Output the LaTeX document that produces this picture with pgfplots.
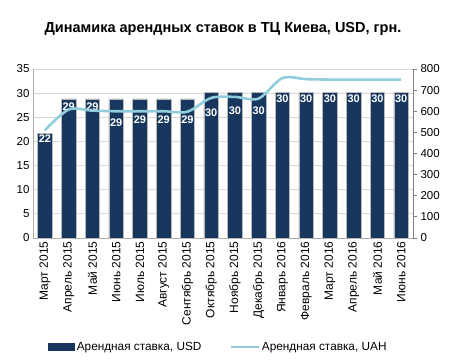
\documentclass[border=0pt]{standalone}
\usepackage{pgfplots}
\pgfplotsset{compat=1.18}
\usepackage{fontspec}
\setmainfont{Liberation Sans}
\definecolor{navy}{RGB}{23,55,94}
\definecolor{lblue}{RGB}{146,205,221}
\definecolor{gridc}{RGB}{217,217,217}
\definecolor{axc}{RGB}{170,170,170}
\definecolor{axr}{RGB}{130,130,130}
\begin{document}
\begin{tikzpicture}
\useasboundingbox (-33pt,-121pt) rectangle (417pt,238pt);
\begin{axis}[
  at={(0pt,0pt)}, anchor=south west,
  scale only axis, width=380pt, height=169pt,
  xmin=-0.5, xmax=15.5, ymin=0, ymax=35,
  ytick={0,5,...,35},
  xtick={0,...,15},
  xticklabels={Март 2015,Апрель 2015,Май 2015,Июнь 2015,Июль 2015,Август 2015,Сентябрь 2015,Октябрь 2015,Ноябрь 2015,Декабрь 2015,Январь 2016,Февраль 2016,Март 2016,Апрель 2016,Май 2016,Июнь 2016},
  xticklabel style={rotate=90, anchor=east, font=\fontsize{12}{14}\selectfont},
  yticklabel style={font=\fontsize{11.5}{13}\selectfont},
  /pgf/number format/assume math mode=true,
  major tick length=0pt,
  ymajorgrids, grid style={gridc, line width=0.8pt},
  axis y line*=left, axis x line*=bottom,
  axis line style={axc, line width=0.8pt, -},
  title={\bfseries Динамика арендных ставок в ТЦ Киева, USD, грн.},
  title style={at={(0.5,1)}, anchor=center, yshift=34pt, font=\fontsize{14.5}{17}\selectfont},
  legend columns=2,
  legend style={draw=none, at={(0.488,-0.645)}, anchor=center, font=\fontsize{11.8}{13}\selectfont,
    /tikz/every even column/.append style={column sep=26pt}},
  legend cell align=left,
]
\addplot[ybar, bar width=14.5pt, fill=navy, draw=gray!55, line width=0.5pt,
  legend image code/.code={\fill[navy] (0pt,-3.5pt) rectangle (26pt,3.5pt);}]
  coordinates {(0,21.7) (1,28.8) (2,28.8) (3,28.8) (4,28.8) (5,28.8) (6,28.8) (7,30.1) (8,30.1) (9,30.1) (10,30.1) (11,30.1) (12,30.1) (13,30.1) (14,30.1) (15,30.1)};
\addlegendentry{Арендная ставка, USD}
\addlegendimage{legend image code/.code={\draw[lblue, line width=2.5pt] (0pt,0pt) -- (28pt,0pt);}}
\addlegendentry{Арендная ставка, UAH}
\addplot[draw=none, mark=none, forget plot, nodes near coords, point meta=explicit symbolic,
  every node near coord/.append style={anchor=center, text=white, font=\bfseries\fontsize{11}{12}\selectfont, inner sep=0pt}]
  coordinates {(0,20.5)[22] (1,27.2)[29] (2,27.2)[29] (3,23.9)[29] (4,24.6)[29] (5,24.6)[29] (6,24.6)[29] (7,25.9)[30] (8,26.3)[30] (9,26.3)[30] (10,28.8)[30] (11,28.8)[30] (12,28.8)[30] (13,28.8)[30] (14,28.8)[30] (15,28.8)[30]};
\end{axis}
\begin{axis}[
  at={(0pt,0pt)}, anchor=south west,
  scale only axis, width=380pt, height=169pt,
  xmin=-0.5, xmax=15.5, ymin=0, ymax=800,
  ytick={0,100,...,800},
  axis y line*=right, axis x line=none,
  axis line style={axr, line width=0.8pt, -},
  ytick style={axr, line width=0.8pt},
  tick align=outside, major tick length=4pt,
  yticklabel style={font=\fontsize{11.5}{13}\selectfont},
  /pgf/number format/assume math mode=true,
]
\addplot[lblue, line width=2.6pt, smooth, mark=none]
  coordinates {(0,510) (1,608) (2,603) (3,600) (4,600) (5,600) (6,598) (7,663) (8,668) (9,660) (10,757) (11,752) (12,750) (13,750) (14,750) (15,750)};
\end{axis}
\end{tikzpicture}
\end{document}
